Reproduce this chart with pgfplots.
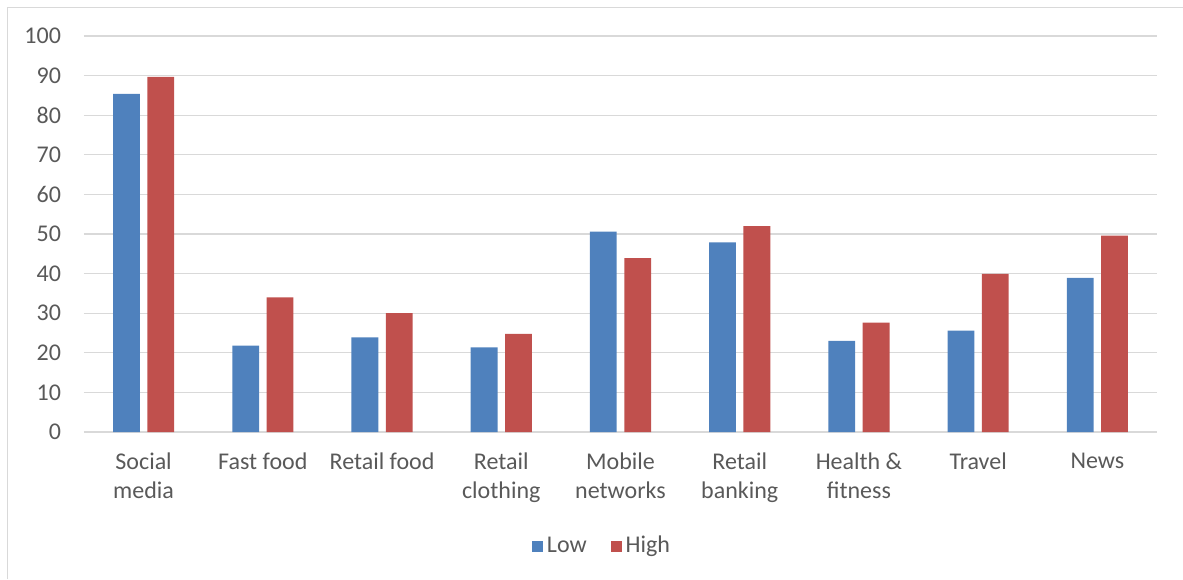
\documentclass[border=0pt]{standalone}
\usepackage{pgfplots}
\pgfplotsset{compat=1.18}
\usepackage{fontspec}
\setmainfont{Carlito}
\definecolor{lowc}{HTML}{4F81BD}
\definecolor{highc}{HTML}{C0504D}
\definecolor{gridc}{HTML}{D9D9D9}
\definecolor{txtc}{HTML}{595959}
\begin{document}
\begin{tikzpicture}[x=0.5pt,y=0.5pt]
\useasboundingbox (0,0) rectangle (1183,579);
\draw[gridc, line width=0.6pt] (7.5,0) -- (7.5,571.5) -- (1183,571.5);
\begin{axis}[
  at={(42pt,73.5pt)}, anchor=south west,
  scale only axis, width=536.5pt, height=198pt,
  xmin=-0.5, xmax=8.5, ymin=0, ymax=100,
  ytick={0,10,...,100},
  xtick={0,...,8},
  xticklabels={{Social\\media},{Fast food},{Retail food},{Retail\\clothing},{Mobile\\networks},{Retail\\banking},{Health \&\\fitness},{Travel},{News}},
  xticklabel style={align=center, text=txtc, font=\fontsize{12}{14.5}\selectfont, anchor=north, yshift=-7pt},
  yticklabel style={text=txtc, font=\fontsize{12}{14.5}\selectfont, anchor=east, xshift=-8pt},
  /pgf/number format/assume math mode=true,
  major tick length=0pt,
  axis line style={draw=none},
  ymajorgrids, grid style={gridc, line width=0.6pt},
  bar width=0.225,
  legend style={draw=none, at={(0.4837,-0.288)}, anchor=center, legend columns=2,
    font=\fontsize{12}{14.5}\selectfont, text=txtc,
    /tikz/every even column/.append style={column sep=10pt}},
  legend image code/.code={\fill[#1] (0pt,-2.75pt) rectangle (5.5pt,2.75pt);},
]
\addplot[ybar, fill=lowc, draw=none, bar shift=-0.144] coordinates {
(0,85.4) (1,21.8) (2,23.9) (3,21.4) (4,50.6) (5,47.9) (6,23.0) (7,25.6) (8,38.9)};
\addlegendentry{Low}
\addplot[ybar, fill=highc, draw=none, bar shift=0.144] coordinates {
(0,89.7) (1,34.0) (2,30.0) (3,24.8) (4,43.9) (5,52.0) (6,27.6) (7,39.9) (8,49.6)};
\addlegendentry{High}
\end{axis}
\end{tikzpicture}
\end{document}
